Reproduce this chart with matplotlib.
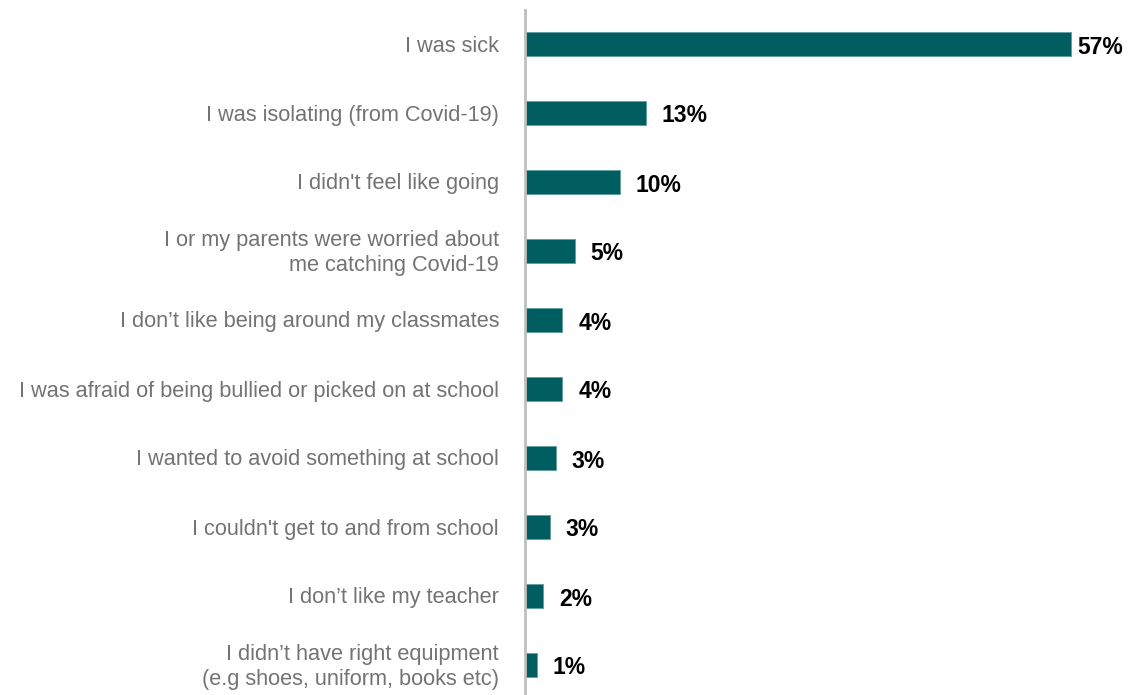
import matplotlib.pyplot as plt

categories = [
    "I was sick",
    "I was isolating (from Covid-19)",
    "I didn't feel like going",
    "I or my parents were worried about\nme catching Covid-19",
    "I don\u2019t like being around my classmates",
    "I was afraid of being bullied or picked on at school",
    "I wanted to avoid something at school",
    "I couldn't get to and from school",
    "I don\u2019t like my teacher",
    "I didn\u2019t have right equipment\n(e.g shoes, uniform, books etc)",
]
values = [57.0, 12.6, 9.9, 5.2, 3.9, 3.9, 3.2, 2.6, 1.9, 1.2]
value_labels = ["57%", "13%", "10%", "5%", "4%", "4%", "3%", "3%", "2%", "1%"]

BAR_COLOR = "#005E60"
LABEL_COLOR = "#737373"

plt.rcParams["font.family"] = ["Liberation Sans", "DejaVu Sans"]

fig = plt.figure(figsize=(11.36, 6.95), dpi=100)
ax = fig.add_axes([525 / 1136, -4.5 / 695, 575 / 1136, 690 / 695])

positions = list(range(len(categories)))
ax.barh(positions, values, height=0.35, color=BAR_COLOR,
        edgecolor="#5f9ea0", linewidth=0.6)

ax.set_xlim(0, 60)
ax.set_ylim(len(categories) - 0.5, -0.5)

# Etiquetas de categoría a la izquierda del eje.
for pos, cat in zip(positions, categories):
    ax.annotate(cat, (0, pos), xytext=(-26, -2), textcoords="offset pixels",
                ha="right", va="center", fontsize=15.7, color=LABEL_COLOR,
                linespacing=1.2, annotation_clip=False)

# Etiquetas de valor al final de cada barra.
for pos, val, lab in zip(positions, values, value_labels):
    offset = 6 if val == max(values) else 16
    ax.annotate(lab, (val, pos), xytext=(offset, -3), textcoords="offset pixels",
                ha="left", va="center", fontsize=16.5, fontweight="bold",
                color="black", annotation_clip=False)

for side in ["top", "right", "bottom"]:
    ax.spines[side].set_visible(False)
ax.spines["left"].set_color("#bfbfbf")
ax.spines["left"].set_linewidth(2)
ax.set_xticks([])
ax.set_yticks([])

fig.savefig("out.png", dpi=100)
